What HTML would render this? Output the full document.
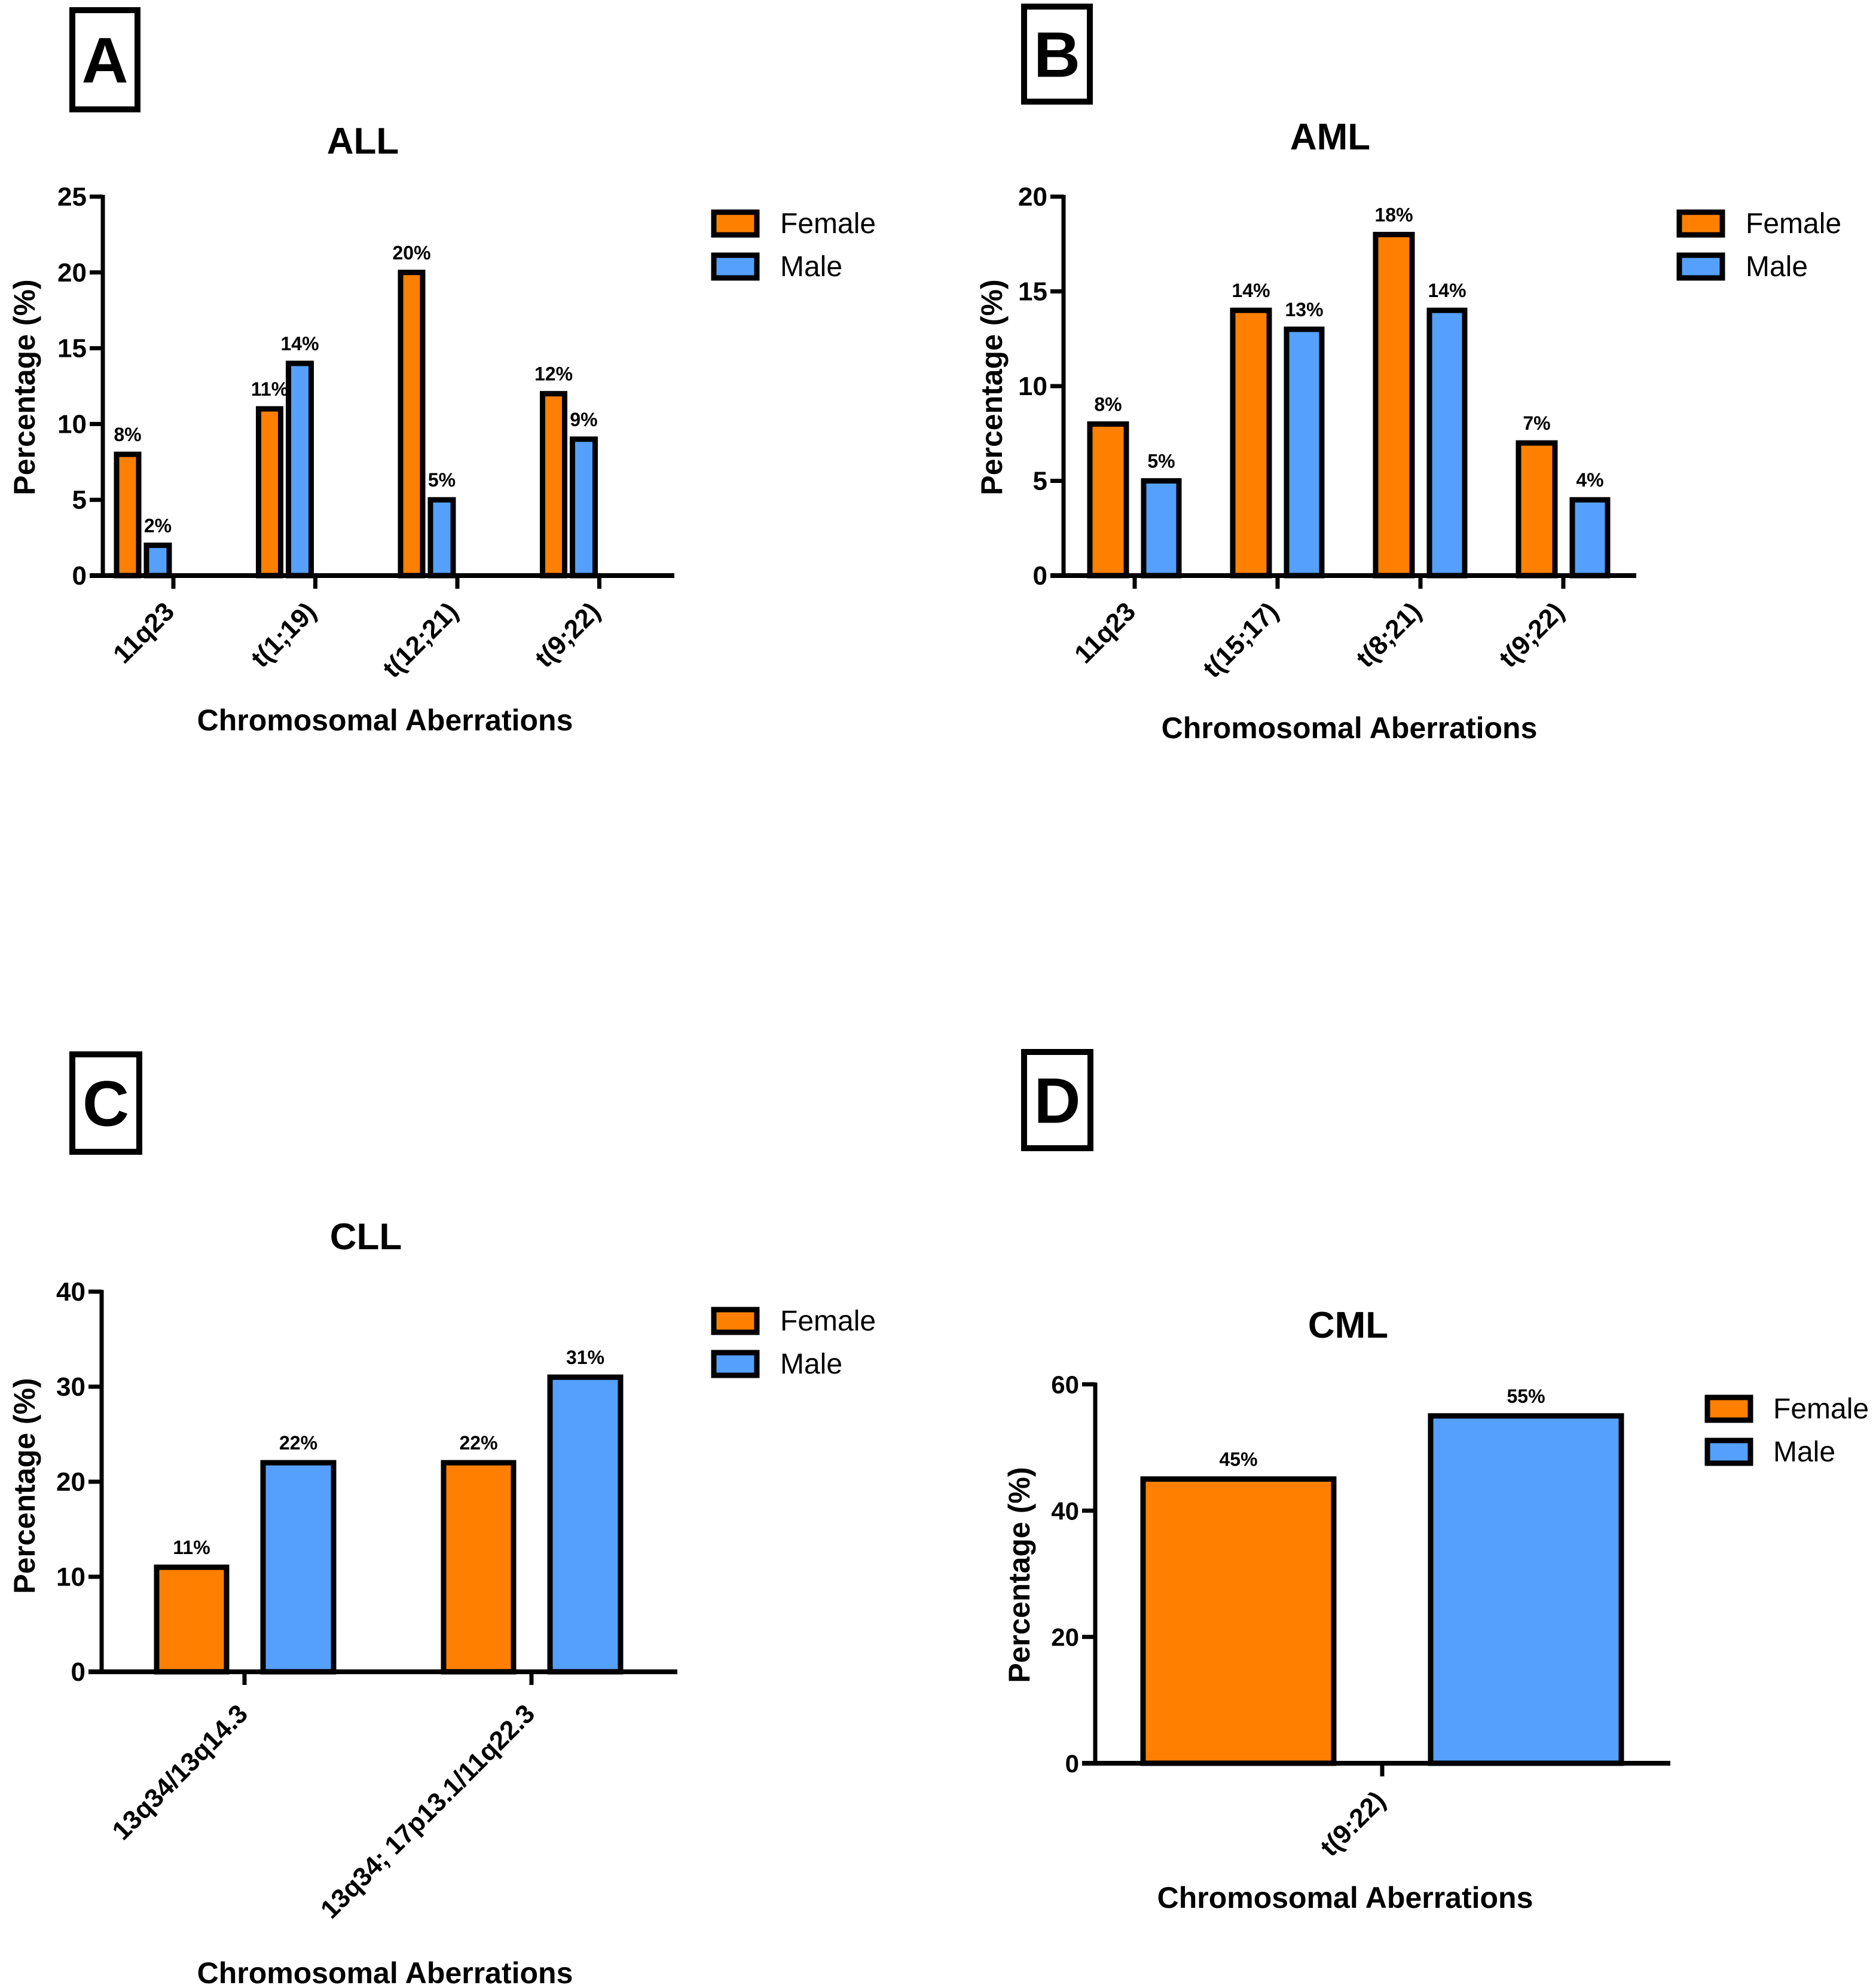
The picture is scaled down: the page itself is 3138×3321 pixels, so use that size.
<!DOCTYPE html>
<html><head><meta charset="utf-8"><style>
html,body{margin:0;padding:0;background:#fff;}
svg{display:block;font-family:"Liberation Sans",Arial,sans-serif;font-weight:bold;}
</style></head><body>
<svg id="fig" width="3138" height="3321" viewBox="0 0 3138 3321" xmlns="http://www.w3.org/2000/svg"></svg>
<script>
// ---- Data ----
const allCategories = ["11q23","t(1;19)","t(12;21)","t(9;22)"];
const allFemale = [8,11,20,12];
const allMale = [2,14,5,9];
const allTicks = [0,5,10,15,20,25];

const amlCategories = ["11q23","t(15;17)","t(8;21)","t(9;22)"];
const amlFemale = [8,14,18,7];
const amlMale = [5,13,14,4];
const amlTicks = [0,5,10,15,20];

const cllCategories = ["13q34/13q14.3","13q34; 17p13.1/11q22.3"];
const cllFemale = [11,22];
const cllMale = [22,31];
const cllTicks = [0,10,20,30,40];

const cmlCategories = ["t(9:22)"];
const cmlFemale = [45];
const cmlMale = [55];
const cmlTicks = [0,20,40,60];

const NS="http://www.w3.org/2000/svg";
const svg=document.getElementById('fig');
function mk(tag,attrs,parent,text){
  const e=document.createElementNS(NS,tag);
  for(const k in attrs)e.setAttribute(k,attrs[k]);
  if(text!==undefined)e.textContent=text;
  (parent||svg).appendChild(e);return e;
}

const panels=[
 {key:'a',letter:'A',box:[121,17,109,166],title:'ALL',titleX:607,titleY:257,
  cats:allCategories,fem:allFemale,mal:allMale,ticks:allTicks,
  axX:172,yTop:329,yZero:963,axR:1128,tick0:290,tickStep:237.5,
  fOff:[-95,-58],mOff:[-45,-7],valSize:32,tickSize:44,
  leg:[1194,355,2],legText:1305,catY:1026,catDx:4,
  xtX:644,xtY:1222,ylX:58,ylY:648},
 {key:'b',letter:'B',box:[1713,11,110,159],title:'AML',titleX:2225,titleY:250,
  cats:amlCategories,fem:amlFemale,mal:amlMale,ticks:amlTicks,
  axX:1779,yTop:329,yZero:963,axR:2737,tick0:1898,tickStep:239,
  fOff:[-75,-14],mOff:[15,74],valSize:32,tickSize:44,
  leg:[2809,355,2],legText:2920,catY:1026,catDx:4,
  xtX:2257,xtY:1235,ylX:1676,ylY:648},
 {key:'c',letter:'C',box:[121,1764,112,163],title:'CLL',titleX:612,titleY:2090,
  cats:cllCategories,fem:cllFemale,mal:cllMale,ticks:cllTicks,
  axX:170,yTop:2161,yZero:2797,axR:1133,tick0:409,tickStep:480,
  fOff:[-147,-30],mOff:[31,149],valSize:32,tickSize:44,
  leg:[1194,2191,2],legText:1305,catY:2870,catDx:8,
  xtX:644,xtY:3318,ylX:58,ylY:2486},
 {key:'d',letter:'D',box:[1713,1760,111,161],title:'CML',titleX:2255,titleY:2238,
  cats:cmlCategories,fem:cmlFemale,mal:cmlMale,ticks:cmlTicks,
  axX:1832,yTop:2316,yZero:2950,axR:2794,tick0:2312,tickStep:0,
  fOff:[-400,-81],mOff:[81,400],valSize:32,tickSize:42,
  leg:[2856,2338,2],legText:2966,catY:3015,catDx:8,
  xtX:2250,xtY:3192,ylX:1722,ylY:2635}
];

panels.forEach(p=>{
  const g=mk('g',{});
  
  
  const lb=mk('rect',{x:p.box[0],y:p.box[1],width:p.box[2],height:p.box[3],fill:'none',stroke:'#000','stroke-width':10},g);
  
  
  const lt=mk('text',{x:p.box[0]+p.box[2]/2,y:p.box[1]+p.box[3]/2+38,'text-anchor':'middle','font-size':108},g,p.letter);
  
  
  const tt=mk('text',{x:p.titleX,y:p.titleY,'text-anchor':'middle','font-size':62},g,p.title);
  
  
  const yMax=p.ticks[p.ticks.length-1];
  const ys=v=>p.yZero-(v/yMax)*(p.yZero-p.yTop);
  const xs=i=>p.tick0+i*p.tickStep;
  p.cats.forEach((c,i)=>{
    [[p.fem,p.fOff,'#ff8000','female'],[p.mal,p.mOff,'#55a0fc','male']].forEach(s=>{
      const v=s[0][i];const x0=xs(i)+s[1][0],x1=xs(i)+s[1][1];
      const r=mk('rect',{x:x0,y:ys(v),width:x1-x0,height:p.yZero-ys(v),fill:s[2],stroke:'#000','stroke-width':9},g);
      
      
      const vl=mk('text',{x:(x0+x1)/2,y:ys(v)-22,'text-anchor':'middle','font-size':p.valSize},g,v+'%');
      
      
    });
    const tk=mk('line',{x1:xs(i),y1:p.yZero,x2:xs(i),y2:p.yZero+22,stroke:'#000','stroke-width':7},g);
    
    
    const cl=mk('text',{x:xs(i)+p.catDx,y:p.catY,'text-anchor':'end','font-size':44,transform:`rotate(-45 ${xs(i)+p.catDx} ${p.catY})`},g,c);
    
    
  });
  const ya=mk('line',{x1:p.axX,y1:p.yTop-3,x2:p.axX,y2:p.yZero+3,stroke:'#000','stroke-width':7},g);
  
  
  const xa=mk('line',{x1:p.axX-22,y1:p.yZero,x2:p.axR,y2:p.yZero,stroke:'#000','stroke-width':8},g);
  
  
  p.ticks.forEach(t=>{
    const l=mk('line',{x1:p.axX-22,y1:ys(t),x2:p.axX,y2:ys(t),stroke:'#000','stroke-width':7},g);
    
    
    const tl=mk('text',{x:p.axX-27,y:ys(t)+15,'text-anchor':'end','font-size':p.tickSize},g,String(t));
    
    
  });
  const xt=mk('text',{x:p.xtX,y:p.xtY,'text-anchor':'middle','font-size':50},g,'Chromosomal Aberrations');
  
  
  const yl=mk('text',{x:p.ylX,y:p.ylY,'text-anchor':'middle','font-size':50,transform:`rotate(-90 ${p.ylX} ${p.ylY})`},g,'Percentage (%)');
  
  
  [['Female','#ff8000',0],['Male','#55a0fc',72]].forEach(L=>{
    const lr=mk('rect',{x:p.leg[0],y:p.leg[1]+L[2],width:72,height:38,fill:L[1],stroke:'#000','stroke-width':9},g);
    
    
    const ltx=mk('text',{x:p.legText,y:p.leg[1]+L[2]+35,'font-size':48,'font-weight':'normal'},g,L[0]);
    
    
  });
});
</script>
</body></html>
